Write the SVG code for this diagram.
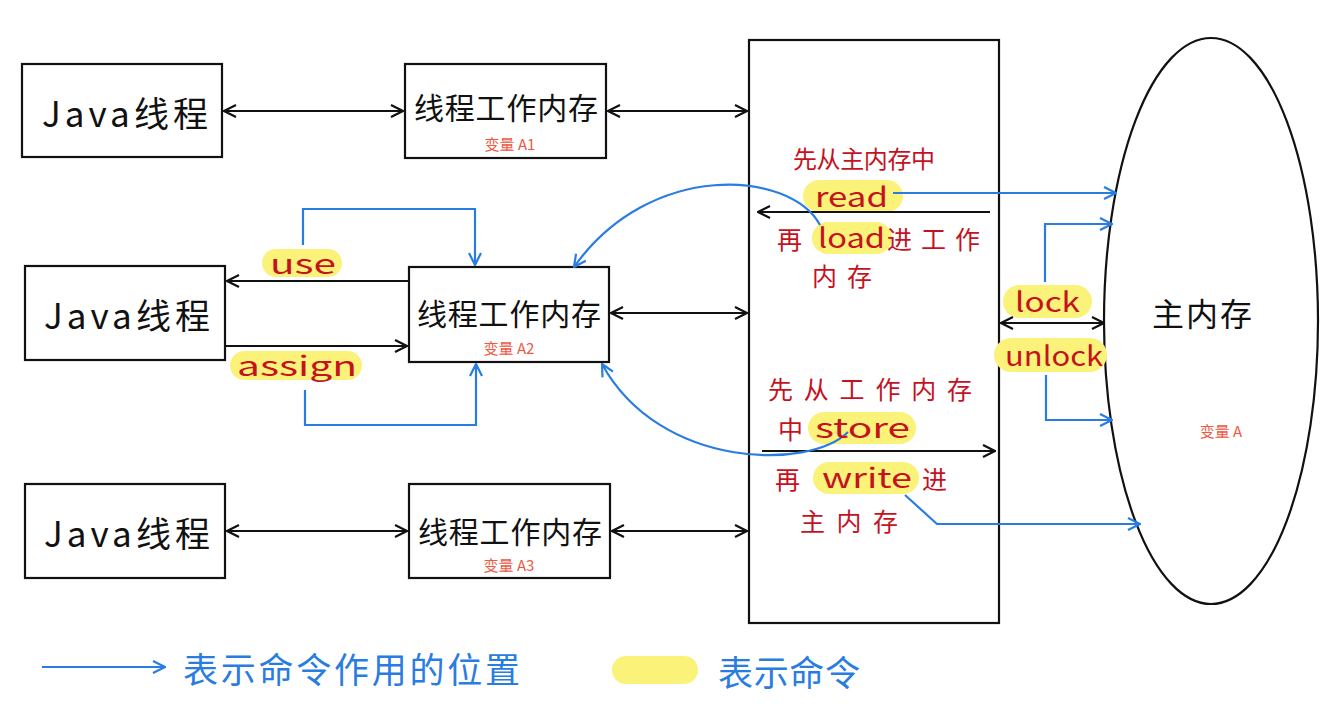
<svg xmlns="http://www.w3.org/2000/svg" width="1340" height="704" viewBox="0 0 1340 704">
<style>
.box{fill:#fff;stroke:#111;stroke-width:2.2}
.bk{fill:none;stroke:#111;stroke-width:2.2}
.bl{fill:none;stroke:#2a7de0;stroke-width:2.2}
.t{font-family:"Noto Sans CJK SC","Liberation Sans",sans-serif;text-anchor:middle;dominant-baseline:central}
.s{font-family:"Noto Sans CJK SC","Liberation Sans",sans-serif;text-anchor:start;dominant-baseline:central}
.big{font-size:30px;fill:#111}
.jv{font-size:35px;fill:#111}
.sub{font-size:15px;fill:#ec5a44}
.red{font-size:25px;fill:#c4121e}
.lat{font-size:27px;fill:#c4121e}
.blt{font-size:35px;fill:#2a7de0}
.hl{fill:#fbf27a}
</style>
<defs>
<marker id="ak" viewBox="0 0 14 14" refX="13" refY="7" markerWidth="14" markerHeight="14" orient="auto-start-reverse" markerUnits="userSpaceOnUse"><path d="M1,1 L13,7 L1,13" fill="none" stroke="#111" stroke-width="2.2"/></marker>
<marker id="ab" viewBox="0 0 14 14" refX="13" refY="7" markerWidth="14" markerHeight="14" orient="auto-start-reverse" markerUnits="userSpaceOnUse"><path d="M1,1 L13,7 L1,13" fill="none" stroke="#2a7de0" stroke-width="2.2"/></marker>
</defs>
<rect width="1340" height="704" fill="#fff"/>

<g id="main-area"><rect class="box" x="749" y="40" width="250" height="583"/></g>
<g id="main-memory"><ellipse class="box" cx="1211" cy="321" rx="107" ry="283"/>
<text class="t big" x="1202" y="312" style="font-size:32px" textLength="100" lengthAdjust="spacing">主内存</text>
<text class="t sub" x="1221" y="430">变量 A</text></g>

<g id="java1"><rect class="box" x="22" y="64" width="200" height="93"/><text class="t jv" x="125" y="111" textLength="166" lengthAdjust="spacing">Java线程</text></g>
<g id="java2"><rect class="box" x="25" y="266" width="200" height="94"/><text class="t jv" x="127" y="313" textLength="166" lengthAdjust="spacing">Java线程</text></g>
<g id="java3"><rect class="box" x="25" y="484" width="200" height="94"/><text class="t jv" x="127" y="531" textLength="166" lengthAdjust="spacing">Java线程</text></g>

<g id="wm1"><rect class="box" x="405" y="64" width="201" height="94"/><text class="t big" x="506" y="106" textLength="184" lengthAdjust="spacing">线程工作内存</text><text class="t sub" x="510" y="143">变量 A1</text></g>
<g id="wm2"><rect class="box" x="409" y="267" width="200" height="95"/><text class="t big" x="509" y="312" textLength="184" lengthAdjust="spacing">线程工作内存</text><text class="t sub" x="509" y="347">变量 A2</text></g>
<g id="wm3"><rect class="box" x="409" y="484" width="201" height="94"/><text class="t big" x="510" y="530" textLength="184" lengthAdjust="spacing">线程工作内存</text><text class="t sub" x="509" y="564">变量 A3</text></g>

<g id="highlights">
<rect class="hl" x="262" y="249" width="80" height="28" rx="14"/>
<rect class="hl" x="230" y="351" width="132" height="29" rx="14.5"/>
<rect class="hl" x="803" y="180" width="100" height="32" rx="16"/>
<rect class="hl" x="812" y="222" width="80" height="32" rx="16"/>
<rect class="hl" x="808" y="412" width="108" height="32" rx="16"/>
<rect class="hl" x="813" y="462" width="106" height="32" rx="16"/>
<rect class="hl" x="1003" y="285" width="89" height="33" rx="16.5"/>
<rect class="hl" x="994" y="338" width="113" height="34" rx="17"/>
</g>

<g id="connectors">
<line class="bk" x1="224" y1="111" x2="403" y2="111" marker-start="url(#ak)" marker-end="url(#ak)"/>
<line class="bk" x1="608" y1="111" x2="747" y2="111" marker-start="url(#ak)" marker-end="url(#ak)"/>
<line class="bk" x1="611" y1="313" x2="747" y2="313" marker-start="url(#ak)" marker-end="url(#ak)"/>
<line class="bk" x1="227" y1="531" x2="407" y2="531" marker-start="url(#ak)" marker-end="url(#ak)"/>
<line class="bk" x1="612" y1="531" x2="747" y2="531" marker-start="url(#ak)" marker-end="url(#ak)"/>
<line class="bk" x1="409" y1="281" x2="227" y2="281" marker-end="url(#ak)"/>
<line class="bk" x1="225" y1="346" x2="407" y2="346" marker-end="url(#ak)"/>
<line class="bk" x1="990" y1="212" x2="758" y2="212" marker-end="url(#ak)"/>
<line class="bk" x1="762" y1="451" x2="995" y2="451" marker-end="url(#ak)"/>
<line class="bk" x1="1001" y1="323" x2="1104" y2="323" marker-start="url(#ak)" marker-end="url(#ak)"/>

<path class="bl" d="M303,245 V209 H475 V265" marker-end="url(#ab)"/>
<path class="bl" d="M305,390 V425 H476 V364" marker-end="url(#ab)"/>
<path class="bl" d="M893,193 H1116" marker-end="url(#ab)"/>
<path class="bl" d="M1045,282 V224 H1112" marker-end="url(#ab)"/>
<path class="bl" d="M1046,375 V420 H1112" marker-end="url(#ab)"/>
<path class="bl" d="M905,495 L937,524 H1140" marker-end="url(#ab)"/>
<path class="bl" d="M820,225 C790,170 650,160 574,267" marker-end="url(#ab)"/>
<path class="bl" d="M848,432 C810,470 660,470 602,364" marker-end="url(#ab)"/>
<line class="bl" x1="42" y1="667" x2="165" y2="667" marker-end="url(#ab)"/>
</g>

<g id="labels">
<text class="s lat" x="270" y="262" textLength="66" lengthAdjust="spacingAndGlyphs">use</text>
<text class="s lat" x="237" y="364" textLength="120" lengthAdjust="spacingAndGlyphs">assign</text>
<text class="s red" x="793" y="157" style="font-size:24px" textLength="142" lengthAdjust="spacing">先从主内存中</text>
<text class="s lat" x="815" y="195" textLength="73" lengthAdjust="spacingAndGlyphs">read</text>
<text class="s red" x="777" y="238">再</text>
<text class="s lat" x="818" y="236" textLength="67" lengthAdjust="spacingAndGlyphs">load</text>
<text class="s red" x="887" y="238" textLength="93" lengthAdjust="spacing">进工作</text>
<text class="s red" x="812" y="275" textLength="60" lengthAdjust="spacing">内存</text>
<text class="s red" x="768" y="388" textLength="204" lengthAdjust="spacing">先从工作内存</text>
<text class="s red" x="778" y="428">中</text>
<text class="s lat" x="815" y="426" textLength="95" lengthAdjust="spacingAndGlyphs">store</text>
<text class="s red" x="775" y="478">再</text>
<text class="s lat" x="822" y="476" textLength="90" lengthAdjust="spacingAndGlyphs">write</text>
<text class="s red" x="922" y="478">进</text>
<text class="s red" x="800" y="520" textLength="98" lengthAdjust="spacing">主内存</text>
<text class="s lat" x="1015" y="300" textLength="65" lengthAdjust="spacingAndGlyphs">lock</text>
<text class="s lat" x="1005" y="354" textLength="98" lengthAdjust="spacingAndGlyphs">unlock</text>
</g>

<g id="legend">
<text class="s blt" x="183" y="667" textLength="337" lengthAdjust="spacing">表示命令作用的位置</text>
<rect class="hl" x="612" y="656" width="86" height="28" rx="14"/>
<text class="s blt" x="718" y="670" textLength="142" lengthAdjust="spacing">表示命令</text>
</g>
</svg>
